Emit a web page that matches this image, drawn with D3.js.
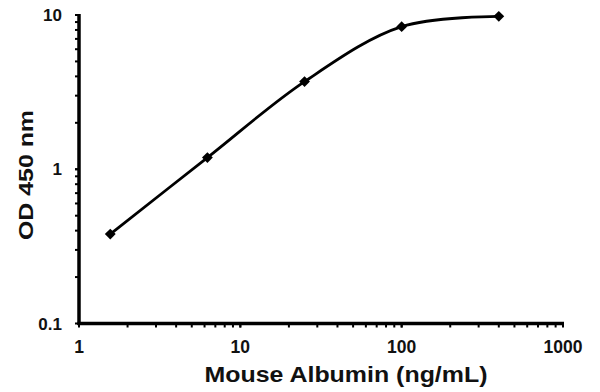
<!DOCTYPE html>
<html><head><meta charset="utf-8">
<script src="https://cdn.jsdelivr.net/npm/d3@7"></script>
<style>body{margin:0;background:#fff}svg{display:block}</style>
</head><body>
<svg id="c" width="600" height="392"></svg>
<script>
const concentrations = [1.5625, 6.25, 25, 100, 400];
const odValues = [0.38, 1.19, 3.70, 8.40, 9.80];
const xTickLabels = [1, 10, 100, 1000];
const yTickLabels = [0.1, 1, 10];
const xTitle = "Mouse Albumin (ng/mL)";
const yTitle = "OD 450 nm";

const svg = d3.select("#c");
const x = d3.scaleLog().domain([1, 1000]).range([79, 563]);
const y = d3.scaleLog().domain([0.1, 10]).range([323.5, 15]);
const font = "'Liberation Sans', Arial, sans-serif";

// minor ticks
const xMinor = [];
for (let d = 1; d < 1000; d *= 10) for (let k = 1; k <= 10; k++) xMinor.push(d * k);
const yMinor = [];
for (let d = 0.1; d < 10; d *= 10) for (let k = 1; k <= 10; k++) yMinor.push(+(d * k).toPrecision(3));

svg.append("g").selectAll("line").data(xMinor).join("line")
  .attr("x1", d => x(d)).attr("x2", d => x(d))
  .attr("y1", y(0.1)).attr("y2", y(0.1) + 4)
  .attr("stroke", "#000").attr("stroke-width", 2);
svg.append("g").selectAll("line").data(yMinor).join("line")
  .attr("y1", d => y(d)).attr("y2", d => y(d))
  .attr("x1", x(1)).attr("x2", x(1) - 4)
  .attr("stroke", "#000").attr("stroke-width", 2);

// axis lines
svg.append("line").attr("x1", x(1)).attr("x2", x(1)).attr("y1", y(10) - 1).attr("y2", y(0.1) + 1.5)
  .attr("stroke", "#000").attr("stroke-width", 3.5);
svg.append("line").attr("x1", x(1) - 1.5).attr("x2", x(1000) + 1).attr("y1", y(0.1)).attr("y2", y(0.1))
  .attr("stroke", "#000").attr("stroke-width", 3.5);

// tick labels
svg.append("g").selectAll("text").data(xTickLabels).join("text")
  .attr("x", d => x(d)).attr("y", 353)
  .attr("text-anchor", "middle")
  .attr("font-family", font).attr("font-weight", "bold").attr("font-size", 17.5)
  .attr("fill", "#111").text(d => d);
svg.append("g").selectAll("text").data(yTickLabels).join("text")
  .attr("x", 62).attr("y", d => y(d) + 6)
  .attr("text-anchor", "end")
  .attr("font-family", font).attr("font-weight", "bold").attr("font-size", 17)
  .attr("fill", "#111").text(d => d);

// titles
svg.append("text").attr("x", 346).attr("y", 382).attr("text-anchor", "middle")
  .attr("font-family", font).attr("font-weight", "bold").attr("font-size", 22)
  .attr("textLength", 283).attr("lengthAdjust", "spacingAndGlyphs")
  .attr("fill", "#111").text(xTitle);
svg.append("text").attr("transform", "translate(33,175) rotate(-90)").attr("text-anchor", "middle")
  .attr("font-family", font).attr("font-weight", "bold").attr("font-size", 21)
  .attr("textLength", 130).attr("lengthAdjust", "spacingAndGlyphs")
  .attr("fill", "#111").text(yTitle);

// data
const pts = concentrations.map((c, i) => [c, odValues[i]]);
const line = d3.line().x(d => x(d[0])).y(d => y(d[1])).curve(d3.curveCatmullRom.alpha(0.5));
svg.append("path").attr("d", line(pts)).attr("fill", "none")
  .attr("stroke", "#000").attr("stroke-width", 2.8);
svg.append("g").selectAll("path").data(pts).join("path")
  .attr("transform", d => `translate(${x(d[0])},${y(d[1])})`)
  .attr("d", d3.symbol(d3.symbolDiamond2, 75)())
  .attr("fill", "#000");
</script>
</body></html>
